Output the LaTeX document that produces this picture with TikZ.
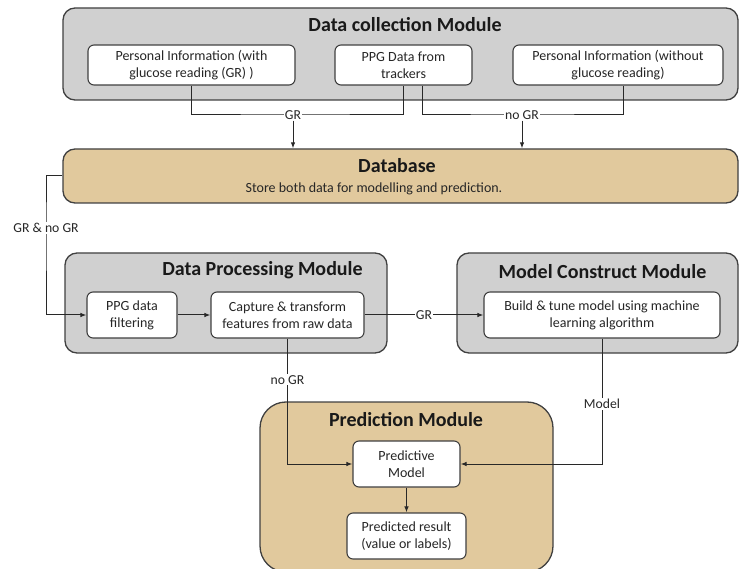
\documentclass[tikz,border=0pt]{standalone}
\usepackage{fontspec}
\setmainfont{Carlito}
\usetikzlibrary{arrows.meta}
\definecolor{modgray}{RGB}{208,208,208}
\definecolor{tan}{RGB}{225,201,157}
\definecolor{edge}{RGB}{64,64,64}
\definecolor{wire}{RGB}{40,40,40}
\begin{document}
\begin{tikzpicture}[x=1pt,y=-1pt,
  module/.style={draw=edge, line width=1.3pt, rounded corners=12pt, fill=modgray, inner sep=0pt},
  tanmodule/.style={module, fill=tan},
  box/.style={draw=edge, line width=1.1pt, fill=white, rounded corners=6pt, align=center,
    inner sep=0pt, text=black!85, font=\fontsize{14}{17}\selectfont},
  title/.style={font=\bfseries\fontsize{20}{23}\selectfont, text=black!90, inner sep=0pt},
  lab/.style={fill=white, inner sep=1pt, text=black!85, font=\fontsize{13.7}{16}\selectfont},
  conn/.style={draw=wire, line width=1pt},
  arr/.style={conn, -{Latex[length=6pt,width=4.5pt]}}]
\clip (0,0) rectangle (739,569);

% module frames
\node[module, minimum width=675pt, minimum height=92pt] (dc) at (400.5,54) {};
\node[tanmodule, minimum width=675pt, minimum height=54pt] (db) at (400.5,176) {};
\node[module, minimum width=322pt, minimum height=100pt] (dp) at (226,303) {};
\node[module, minimum width=281pt, minimum height=100pt] (mc) at (597.5,303) {};
\node[tanmodule, rounded corners=26pt, minimum width=293pt, minimum height=170pt] (pm) at (406.5,487) {};

% module titles
\node[title] (dct) at (405,25) {Data collection Module};
\node[title] (dbt) at (397,166) {Database};
\node[inner sep=0pt, text=black!85, font=\fontsize{14}{17}\selectfont] (dbs) at (374,189) {Store both data for modelling and prediction.};
\node[title] (dpt) at (262.5,270) {Data Processing Module};
\node[title] (mct) at (602.5,272) {Model Construct Module};
\node[title] (pmt) at (406,420) {Prediction Module};

% inner boxes
\node[box, minimum width=207pt, minimum height=40pt] (b1) at (191.5,65) {Personal Information (with\\glucose reading (GR) )};
\node[box, minimum width=137pt, minimum height=40pt] (b2) at (403.5,65) {PPG Data from\\trackers};
\node[box, minimum width=210pt, minimum height=40pt] (b3) at (618,65) {Personal Information (without\\glucose reading)};
\node[box, minimum width=90pt, minimum height=46pt] (f) at (132,315) {PPG data\\filtering};
\node[box, minimum width=153pt, minimum height=46pt] (c) at (287.5,315) {Capture \& transform\\features from raw data};
\node[box, minimum width=236pt, minimum height=46pt] (m) at (602,315) {Build \& tune model using machine\\learning algorithm};
\node[box, minimum width=107pt, minimum height=46pt] (p) at (406.5,464) {Predictive\\Model};
\node[box, minimum width=119pt, minimum height=46pt] (r) at (406.5,536) {Predicted result\\(value or labels)};

% junction points
\coordinate (gr) at (293,115);
\coordinate (nogr) at (522,115);
\coordinate (lft) at (46,228);

% collection to database
\draw[conn] (b1.south) |- (gr) -| (b2.south);
\draw[conn] ([xshift=18.5pt]b2.south) |- (nogr) -| ([xshift=5pt]b3.south);
\node[lab] (grl) at (gr) {GR};
\node[lab] (nogrl) at (nogr) {no GR};
\draw[arr] (grl) -- (grl |- db.north);
\draw[arr] (nogrl) -- (nogrl |- db.north);

% database to processing
\draw[arr] (db.west) -| (lft) |- (f.west);
\node[lab] (lftl) at (lft) {GR \& no GR};

% processing chain
\draw[arr] (f) -- (c);
\draw[arr] (c) -- node[lab] {GR} (m);
\draw[arr] (c.south) |- node[lab, pos=0.165] {no GR} (p.west);
\draw[arr] (m.south) |- node[lab, pos=0.26] {Model} (p.east);
\draw[arr] (p) -- (r);
\end{tikzpicture}
\end{document}
